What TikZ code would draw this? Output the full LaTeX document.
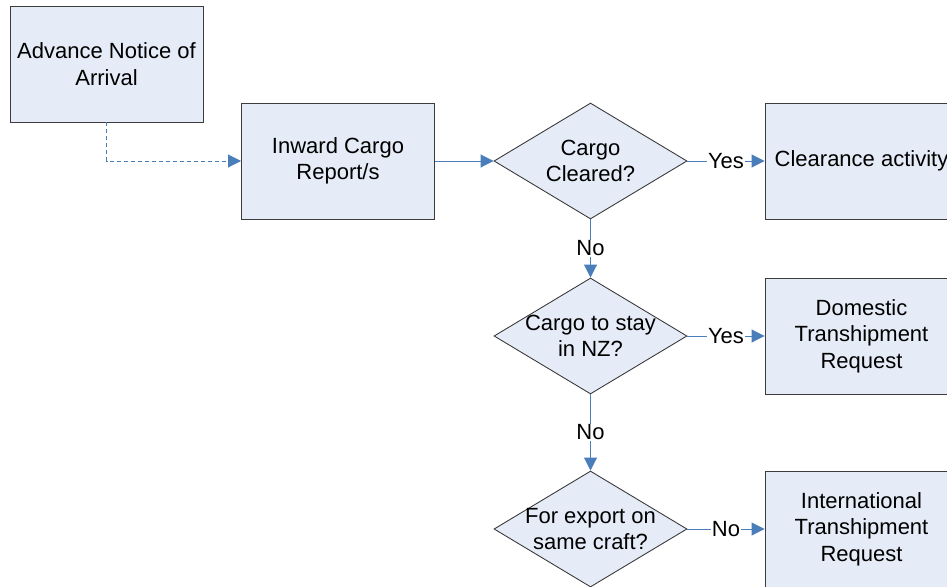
\documentclass[tikz,border=0pt]{standalone}
\usepackage{fontspec}
\setmainfont{Liberation Sans}
\usetikzlibrary{shapes.geometric,arrows.meta}
\definecolor{boxfill}{HTML}{E6ECF7}
\definecolor{boxline}{HTML}{3C3C3C}
\definecolor{flow}{HTML}{4A7EBB}
\begin{document}
\begin{tikzpicture}[x=1pt,y=-1pt,
  txt/.style={font=\fontsize{22}{26.5}\selectfont, align=center},
  procbox/.style={txt, draw=boxline, fill=boxfill, line width=0.9pt,
    minimum width=193pt, minimum height=116pt, inner sep=0pt},
  decision/.style={diamond, aspect=1.66, draw=boxline, fill=boxfill,
    line width=0.9pt, minimum width=193pt, minimum height=116pt, inner sep=0pt},
  flowline/.style={draw=flow, line width=0.9pt,
    -{Triangle[length=13pt,width=13pt]}},
  edgelbl/.style={txt, fill=white, inner sep=1pt}]
\useasboundingbox (0,0) rectangle (947,586);
\clip (0,0) rectangle (947,586);

% process boxes
\node[procbox] (ana) at (106.5,64) {Advance Notice of\\Arrival};
\node[procbox] (icr) at (338,161) {Inward Cargo\\Report/s};
\node[procbox] (clr) at (861.5,161) {Clearance activity};
\node[procbox] (dom) at (861.5,336) {Domestic\\Transhipment\\Request};
\node[procbox] (intl) at (861.5,529) {International\\Transhipment\\Request};

% decisions
\node[decision, label={[txt]center:Cargo\\Cleared?}] (d1) at (590.5,161) {};
\node[decision, label={[txt]center:Cargo to stay\\in NZ?}] (d2) at (590.5,336) {};
\node[decision, label={[txt]center:For export on\\same craft?}] (d3) at (590.5,529) {};

% connectors
\draw[flowline, dashed, dash pattern=on 4pt off 3pt] (ana.south) |- (icr.west);
\draw[flowline] (icr.east) -- (d1.west);
\draw[flowline] (d1.east) -- node[edgelbl] {Yes} (clr.west);
\draw[flowline] (d1.south) -- node[edgelbl] {No} (d2.north);
\draw[flowline] (d2.east) -- node[edgelbl] {Yes} (dom.west);
\draw[flowline] (d2.south) -- node[edgelbl] {No} (d3.north);
\draw[flowline] (d3.east) -- node[edgelbl] {No} (intl.west);
\end{tikzpicture}
\end{document}
